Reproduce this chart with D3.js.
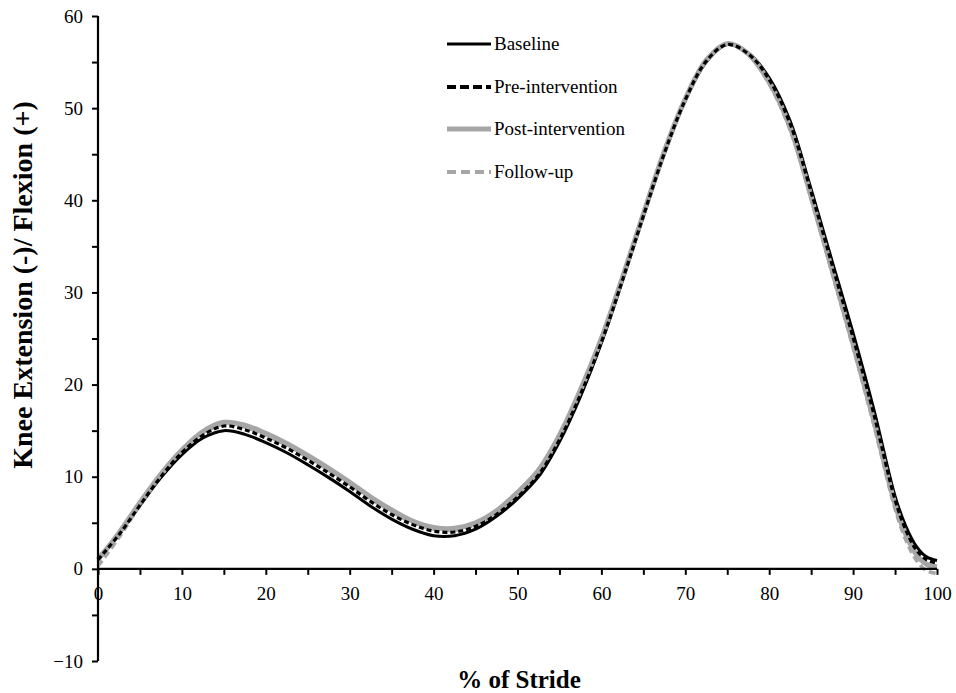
<!DOCTYPE html>
<html><head><meta charset="utf-8">
<script src="https://cdn.jsdelivr.net/npm/d3@7"></script>
<style>
body{margin:0;background:#fff;}
svg{display:block;}
text{font-family:"Liberation Serif","Times New Roman",serif;fill:#000;}
</style></head><body>
<svg id="c" width="956" height="693"></svg>
<script>
const stride = [0,2.5,5,7.5,10,12.5,15,17.5,20,22.5,25,27.5,30,32.5,35,37.5,40,42.5,45,47.5,50,52.5,55,57.5,60,62.5,65,67.5,70,72.5,75,77.5,80,82.5,85,87.5,90,92.5,95,96.25,97.5,98.75,100];
const baseline = [1.2,3.8,6.9,9.9,12.4,14.2,15.0,14.6,13.7,12.6,11.3,9.9,8.4,6.8,5.4,4.3,3.6,3.6,4.3,5.7,7.6,10.0,13.8,18.7,24.5,31.2,38.2,45.0,50.8,55.0,56.9,56.0,53.3,48.6,41.2,33.4,25.6,17.2,7.9,4.7,2.5,1.3,0.9];
const preIntervention = [1.0,3.7,6.9,10.0,12.6,14.5,15.5,15.1,14.2,13.1,11.8,10.4,8.9,7.3,5.9,4.8,4.1,4.0,4.6,5.9,7.8,10.2,14.0,18.9,24.6,31.3,38.3,45.1,50.9,55.1,56.9,55.9,53.1,48.3,40.9,33.0,25.1,16.7,7.5,4.3,2.1,1.0,0.6];
const postIntervention = [1.0,3.9,7.2,10.3,12.9,14.9,15.9,15.6,14.7,13.6,12.3,10.9,9.4,7.8,6.4,5.2,4.5,4.4,5.0,6.3,8.3,10.7,14.5,19.4,25.0,31.6,38.5,45.3,51.0,55.2,57.0,55.9,52.8,47.9,40.4,32.4,24.4,16.0,7.0,3.8,1.6,0.5,0.2];
const followUp = [0.3,3.4,6.9,10.1,12.8,14.7,15.7,15.4,14.5,13.4,12.1,10.7,9.2,7.6,6.2,5.0,4.3,4.2,4.8,6.1,8.1,10.5,14.3,19.2,24.9,31.5,38.4,45.2,51.0,55.2,57.0,55.8,52.6,47.6,40.1,32.1,24.0,15.5,6.5,3.2,1.0,-0.2,-0.5];
const seriesNames = ["Baseline","Pre-intervention","Post-intervention","Follow-up"];
const xMajorTicks = [0,10,20,30,40,50,60,70,80,90,100];
const xMinorTicks = [5,15,25,35,45,55,65,75,85,95];
const yMajorTicks = [-10,0,10,20,30,40,50,60];
const yMinorTicks = [-5,5,15,25,35,45,55];

const styles = {
  "Baseline": {color:"#000", width:3, dash:null},
  "Pre-intervention": {color:"#000", width:3.2, dash:"5,3"},
  "Post-intervention": {color:"#a6a6a6", width:5, dash:null},
  "Follow-up": {color:"#a6a6a6", width:3.5, dash:"7,4"}
};
const seriesData = {
  "Baseline": baseline,
  "Pre-intervention": preIntervention,
  "Post-intervention": postIntervention,
  "Follow-up": followUp
};

const svg = d3.select("#c");
const x = d3.scaleLinear().domain([0,100]).range([98,937]);
const y = d3.scaleLinear().domain([-10,60]).range([661,16]);

const line = d3.line().x(d=>x(d[0])).y(d=>y(d[1])).curve(d3.curveCatmullRom.alpha(0.5));

const drawOrder = ["Baseline","Post-intervention","Follow-up","Pre-intervention"];
const g = svg.append("g");
drawOrder.forEach(name=>{
  const s = styles[name];
  const pts = stride.map((v,i)=>[v, seriesData[name][i]]);
  g.append("path").datum(pts).attr("d", line)
    .attr("fill","none").attr("stroke", s.color).attr("stroke-width", s.width)
    .attr("stroke-dasharray", s.dash).attr("stroke-linejoin","round");
});

const tickFont = 19;
// Y axis
const yAxis = d3.axisLeft(y).tickValues(yMajorTicks).tickSize(6).tickPadding(9).tickFormat(d3.format("d"));
const ya = svg.append("g").attr("transform",`translate(${x(0)},0)`).call(yAxis);
ya.select(".domain").attr("stroke-width",2.2).attr("d",`M0,${y(60)}V${y(-10)}`);
ya.selectAll(".tick line").attr("stroke-width",2);
ya.selectAll("text").attr("font-family","Liberation Serif").attr("font-size",tickFont).attr("fill","#000");
const yMinor = d3.axisLeft(y).tickValues(yMinorTicks).tickSize(6).tickFormat("");
const ym = svg.append("g").attr("transform",`translate(${x(0)},0)`).call(yMinor);
ym.select(".domain").remove();
ym.selectAll(".tick line").attr("stroke-width",2);

// X axis at y=0
const xAxis = d3.axisBottom(x).tickValues(xMajorTicks).tickSize(6).tickPadding(12).tickFormat(d3.format("d"));
const xa = svg.append("g").attr("transform",`translate(0,${y(0)})`).call(xAxis);
xa.select(".domain").attr("stroke-width",2.2).attr("d",`M${x(0)},0H${x(100)}`);
xa.selectAll(".tick line").attr("stroke-width",2);
xa.selectAll("text").attr("font-family","Liberation Serif").attr("font-size",tickFont).attr("fill","#000");
const xMinor = d3.axisBottom(x).tickValues(xMinorTicks).tickSize(6).tickFormat("");
const xm = svg.append("g").attr("transform",`translate(0,${y(0)})`).call(xMinor);
xm.select(".domain").remove();
xm.selectAll(".tick line").attr("stroke-width",2);

// Axis titles
svg.append("text").attr("x",519).attr("y",688).attr("text-anchor","middle")
  .attr("font-size",25).attr("font-weight","bold").text("% of Stride");
svg.append("text").attr("transform","translate(32,285) rotate(-90)").attr("text-anchor","middle")
  .attr("font-size",28).attr("font-weight","bold").text("Knee Extension (-)/ Flexion (+)");

// Legend
const legY = [44,87,129,172];
const lg = svg.append("g");
seriesNames.forEach((name,i)=>{
  const s = styles[name];
  lg.append("line").attr("x1",447).attr("x2",491).attr("y1",legY[i]).attr("y2",legY[i])
    .attr("stroke",s.color).attr("stroke-width",name==="Post-intervention"?5:(name==="Baseline"?3.2:4))
    .attr("stroke-dasharray", name==="Pre-intervention"?"9,4":(name==="Follow-up"?"9,5":null));
  lg.append("text").attr("x",494).attr("y",legY[i]+6).attr("font-size",19).text(name);
});
</script>
</body></html>
